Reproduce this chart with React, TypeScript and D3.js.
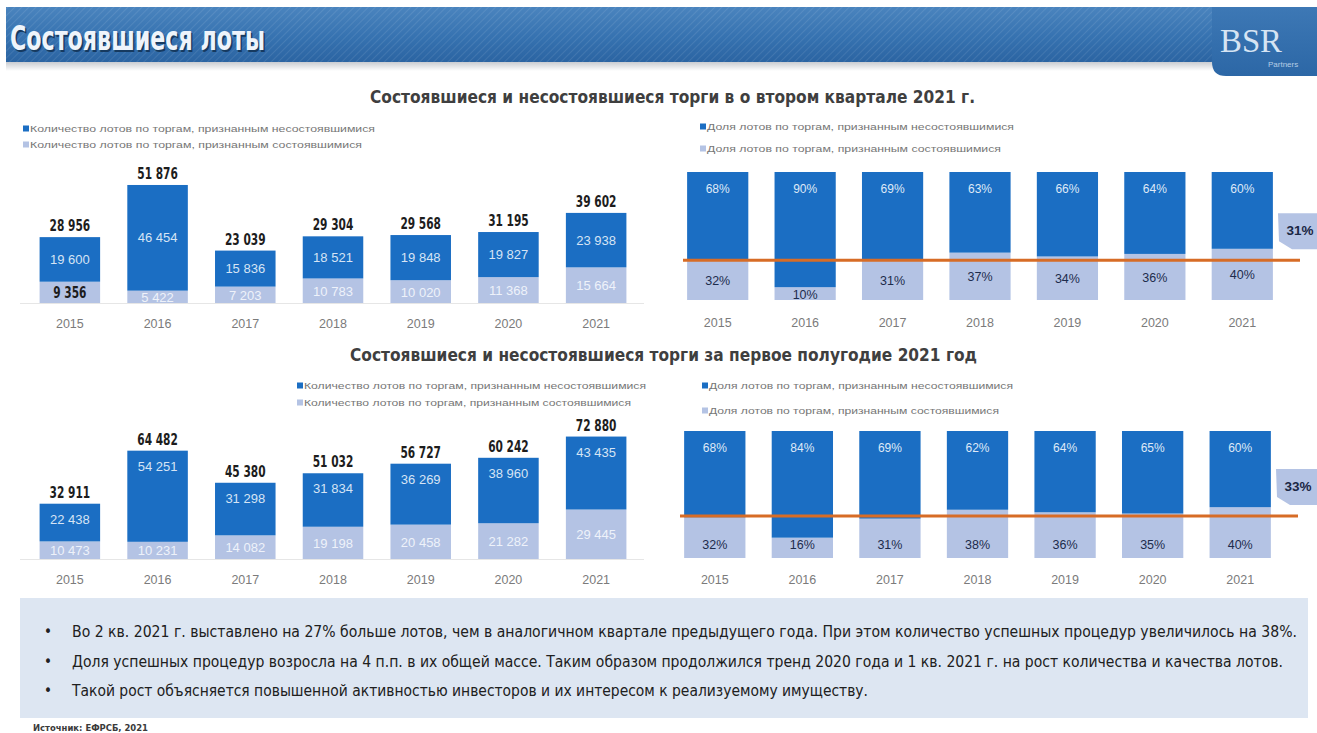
import React from "react";
import * as d3 from "d3";

// ---- data ----
const years = ["2015", "2016", "2017", "2018", "2019", "2020", "2021"];

// 2nd quarter, lot counts
const q2Totals = [28956, 51876, 23039, 29304, 29568, 31195, 39602];
const q2Failed = [19600, 46454, 15836, 18521, 19848, 19827, 23938];
const q2Success = [9356, 5422, 7203, 10783, 10020, 11368, 15664];

// 2nd quarter, shares %
const q2FailedShare = [68, 90, 69, 63, 66, 64, 60];
const q2SuccessShare = [32, 10, 31, 37, 34, 36, 40];
const q2AvgShare = 31;

// 1st half-year, lot counts
const h1Totals = [32911, 64482, 45380, 51032, 56727, 60242, 72880];
const h1Failed = [22438, 54251, 31298, 31834, 36269, 38960, 43435];
const h1Success = [10473, 10231, 14082, 19198, 20458, 21282, 29445];

// 1st half-year, shares %
const h1FailedShare = [68, 84, 69, 62, 64, 65, 60];
const h1SuccessShare = [32, 16, 31, 38, 36, 35, 40];
const h1AvgShare = 33;

const countLegend = [
  "Количество лотов по торгам, признанным несостоявшимися",
  "Количество лотов по торгам, признанным состоявшимися",
];
const shareLegend = [
  "Доля лотов по торгам, признанным несостоявшимися",
  "Доля лотов по торгам, признанным состоявшимися",
];

const notes = [
  "Во 2 кв. 2021 г. выставлено на 27% больше лотов, чем в аналогичном квартале предыдущего года. При этом количество успешных процедур увеличилось на 38%.",
  "Доля успешных процедур возросла на 4 п.п. в их общей массе. Таким образом продолжился тренд 2020 года и 1 кв. 2021 г. на рост количества и качества лотов.",
  "Такой рост объясняется повышенной активностью инвесторов и их интересом к реализуемому имуществу.",
];

const DARK = "#1b6ec3";
const LIGHT = "#b4c3e4";
const ORANGE = "#d76c26";
const NARROW = "'Liberation Sans Narrow', 'Arial Narrow', 'DejaVu Sans Condensed', sans-serif";
const SANS = "'Liberation Sans', Arial, sans-serif";

const fmt = d3.formatLocale({ decimal: ",", thousands: " ", grouping: [3], currency: ["", ""] }).format(",d");

// width the narrow bold total labels take in the slide
const totalWidth = (s: string) => s.replace(/ /g, "").length * 7.4 + 3.6;

const Legend: React.FC<{ x: number; y1: number; y2: number; labels: string[]; widths: number[] }> = ({ x, y1, y2, labels, widths }) => (
  <g fontFamily={SANS} fontSize={9.5} fill="#767676">
    {[y1, y2].map((y, i) => (
      <g key={i}>
        <rect x={x} y={y - 3.5} width={6} height={6} fill={i === 0 ? DARK : LIGHT} />
        <text x={x + 7} y={y + 3} textLength={widths[i]} lengthAdjust="spacingAndGlyphs">
          {labels[i]}
        </text>
      </g>
    ))}
  </g>
);

interface CountProps {
  totals: number[];
  failed: number[];
  success: number[];
  range: [number, number];
  base: number;
  top: number;
  yMax: number;
  darkLabelTop: boolean;
  yearY: number;
  firstLightDark?: boolean;
}

const CountChart: React.FC<CountProps> = ({ totals, failed, success, range, base, top, yMax, darkLabelTop, yearY, firstLightDark }) => {
  const x = d3.scaleBand<string>().domain(years).range(range).paddingInner(0.31).paddingOuter(0.155);
  const y = d3.scaleLinear().domain([0, yMax]).range([base, top]);
  const stack = d3.stack<number>().keys(["s", "f"]).value((i, k) => (k === "s" ? success[i] : failed[i]));
  const series = stack(years.map((_, i) => i));
  const bw = x.bandwidth();
  return (
    <g>
      <line x1={range[0] - 6} x2={range[1] + 4} y1={base + 0.5} y2={base + 0.5} stroke="#e6e6e6" />
      {series.map((s, si) =>
        s.map((d, i) => (
          <rect key={si + "-" + i} x={x(years[i])} y={y(d[1])} width={bw} height={y(d[0]) - y(d[1])} fill={si === 0 ? LIGHT : DARK} />
        ))
      )}
      {years.map((yr, i) => {
        const cx = (x(yr) as number) + bw / 2;
        const sTop = y(series[0][i][1]);
        const fTop = y(series[1][i][1]);
        const darkY = darkLabelTop ? fTop + 20 : (fTop + sTop) / 2 + 4.5;
        const lightDark = firstLightDark && i === 0;
        const tot = fmt(totals[i]);
        const suc = fmt(success[i]);
        return (
          <g key={yr} fontFamily={SANS} textAnchor="middle">
            <text
              x={cx}
              y={fTop - 6}
              fontFamily={NARROW}
              fontSize={15.5}
              fontWeight="bold"
              fill="#1d1d1d"
              textLength={totalWidth(tot)}
              lengthAdjust="spacingAndGlyphs"
            >
              {tot}
            </text>
            <text x={cx} y={darkY} fontSize={13} fill="#d6e4f5">
              {fmt(failed[i])}
            </text>
            {lightDark ? (
              <text
                x={cx}
                y={(sTop + base) / 2 + 5.5}
                fontFamily={NARROW}
                fontSize={15.5}
                fontWeight="bold"
                fill="#1d1d1d"
                textLength={totalWidth(suc)}
                lengthAdjust="spacingAndGlyphs"
              >
                {suc}
              </text>
            ) : (
              <text x={cx} y={(sTop + base) / 2 + 5} fontSize={13} fill="#eef2fa">
                {suc}
              </text>
            )}
            <text x={cx} y={yearY} fontSize={12.5} fill="#7b7b7b">
              {yr}
            </text>
          </g>
        );
      })}
    </g>
  );
};

interface ShareProps {
  failed: number[];
  success: number[];
  avg: number;
  range: [number, number];
  base: number;
  top: number;
  yearY: number;
  lightFixed: boolean;
}

const ShareChart: React.FC<ShareProps> = ({ failed, success, avg, range, base, top, yearY, lightFixed }) => {
  const x = d3.scaleBand<string>().domain(years).range(range).paddingInner(0.3).paddingOuter(0.15);
  const y = d3.scaleLinear().domain([0, 100]).range([base, top]);
  const bw = x.bandwidth();
  const ya = y(avg);
  const cl = range[1] - 8; // callout left edge
  return (
    <g>
      {years.map((yr, i) => {
        const bx = x(yr) as number;
        const sTop = y(success[i]);
        const fTop = y(success[i] + failed[i]);
        return (
          <g key={yr}>
            <rect x={bx} y={sTop} width={bw} height={base - sTop} fill={LIGHT} />
            <rect x={bx} y={fTop} width={bw} height={sTop - fTop} fill={DARK} />
          </g>
        );
      })}
      <line x1={range[0] + 9} x2={cl + 22} y1={ya} y2={ya} stroke={ORANGE} strokeWidth={3} />
      {years.map((yr, i) => {
        const cx = (x(yr) as number) + bw / 2;
        const sTop = y(success[i]);
        const fTop = y(success[i] + failed[i]);
        return (
          <g key={yr} fontFamily={SANS} textAnchor="middle">
            <text x={cx} y={fTop + 21} fontSize={12} fill="#dfe9f7">
              {failed[i]}%
            </text>
            <text x={cx} y={lightFixed ? base - 9 : (sTop + base) / 2 + 5} fontSize={12.5} fill="#1d2c4c">
              {success[i]}%
            </text>
            <text x={cx} y={yearY} fontSize={12.5} fill="#7b7b7b">
              {yr}
            </text>
          </g>
        );
      })}
      <path d={`M${cl},${ya - 47} H1317 V${ya - 11} H${cl + 14} L${cl + 1},${ya - 19} Z`} fill={LIGHT} />
      <text x={cl + 22} y={ya - 25} fontFamily={SANS} fontSize={13.5} fontWeight="bold" fill="#1a2744" textAnchor="middle">
        {avg}%
      </text>
    </g>
  );
};

export default function App() {
  return (
    <div style={{ position: "absolute", left: 0, top: 0 }}>
      <svg width={1317} height={733} viewBox="0 0 1317 733" style={{ display: "block", background: "#fff" }}>
        <defs>
          <linearGradient id="band" x1="0" y1="0" x2="0" y2="1">
            <stop offset="0%" stopColor="#4a84be" />
            <stop offset="55%" stopColor="#3672b0" />
            <stop offset="100%" stopColor="#2b64a2" />
          </linearGradient>
          <linearGradient id="logo" x1="0" y1="0" x2="0" y2="1">
            <stop offset="0%" stopColor="#3d78b5" />
            <stop offset="100%" stopColor="#2c67a6" />
          </linearGradient>
          <linearGradient id="shade" x1="0" y1="0" x2="0" y2="1">
            <stop offset="0%" stopColor="#c9ccd1" />
            <stop offset="100%" stopColor="#ffffff" />
          </linearGradient>
          <pattern id="hatch" width={5} height={5} patternUnits="userSpaceOnUse" patternTransform="rotate(45)">
            <line x1={0} y1={0} x2={0} y2={5} stroke="#ffffff" strokeOpacity={0.09} strokeWidth={2} />
          </pattern>
        </defs>

        {/* header */}
        <rect x={6} y={62} width={1311} height={9} fill="url(#shade)" />
        <rect x={6} y={7} width={1311} height={55} fill="url(#band)" />
        <rect x={6} y={7} width={1311} height={55} fill="url(#hatch)" />
        <text x={11.5} y={51.5} fontFamily={NARROW} fontSize={33} fontWeight="bold" fill="#163a60" textLength={255} lengthAdjust="spacingAndGlyphs">
          Состоявшиеся лоты
        </text>
        <text x={10} y={50} fontFamily={NARROW} fontSize={33} fontWeight="bold" fill="#eef4fb" textLength={255} lengthAdjust="spacingAndGlyphs">
          Состоявшиеся лоты
        </text>
        <path d="M1212,7 H1317 V76 H1226 Q1212,76 1212,62 Z" fill="url(#logo)" />
        <text x={1220} y={52} fontFamily="'Liberation Serif', 'DejaVu Serif', serif" fontSize={34} fill="#d6e4f3" textLength={62} lengthAdjust="spacingAndGlyphs">
          BSR
        </text>
        <text x={1268} y={67} fontFamily={SANS} fontSize={8} fill="#b6cde6">
          Partners
        </text>

        {/* section titles */}
        <text x={370} y={103} fontFamily={NARROW} fontSize={17} fontWeight="bold" fill="#3f3f3f" textLength={605} lengthAdjust="spacingAndGlyphs">
          Состоявшиеся и несостоявшиеся торги в о втором квартале 2021 г.
        </text>
        <text x={350} y={361} fontFamily={NARROW} fontSize={17} fontWeight="bold" fill="#3f3f3f" textLength={627} lengthAdjust="spacingAndGlyphs">
          Состоявшиеся и несостоявшиеся торги за первое полугодие 2021 год
        </text>

        {/* legends */}
        <Legend x={23} y1={129} y2={145} labels={countLegend} widths={[345, 332]} />
        <Legend x={700} y1={127} y2={149} labels={shareLegend} widths={[307, 294]} />
        <Legend x={297} y1={386} y2={403} labels={countLegend} widths={[342, 327]} />
        <Legend x={702} y1={386} y2={411} labels={shareLegend} widths={[304, 290]} />

        {/* charts */}
        <CountChart
          totals={q2Totals}
          failed={q2Failed}
          success={q2Success}
          range={[26, 640]}
          base={303}
          top={166.5}
          yMax={60000}
          darkLabelTop={false}
          yearY={328}
          firstLightDark
        />
        <ShareChart failed={q2FailedShare} success={q2SuccessShare} avg={q2AvgShare} range={[674, 1286]} base={300} top={172} yearY={327} lightFixed={false} />
        <CountChart
          totals={h1Totals}
          failed={h1Failed}
          success={h1Success}
          range={[26, 640]}
          base={559}
          top={424.6}
          yMax={80000}
          darkLabelTop
          yearY={584}
        />
        <ShareChart failed={h1FailedShare} success={h1SuccessShare} avg={h1AvgShare} range={[671, 1284]} base={558} top={431} yearY={584} lightFixed />

        {/* notes */}
        <rect x={20} y={598} width={1288} height={120} fill="#dde6f2" />
        {notes.map((t, i) => (
          <g key={i} fontFamily={NARROW} fontSize={15} fill="#202020">
            <text x={44} y={637 + i * 29.5}>•</text>
            <text x={72} y={637 + i * 29.5} textLength={[1225, 1211, 796][i]} lengthAdjust="spacingAndGlyphs">
              {t}
            </text>
          </g>
        ))}
        <text x={33} y={731} fontFamily={NARROW} fontSize={8.5} fontWeight="bold" fill="#3a3a3a" textLength={115} lengthAdjust="spacingAndGlyphs">
          Источник: ЕФРСБ, 2021
        </text>
      </svg>
    </div>
  );
}
